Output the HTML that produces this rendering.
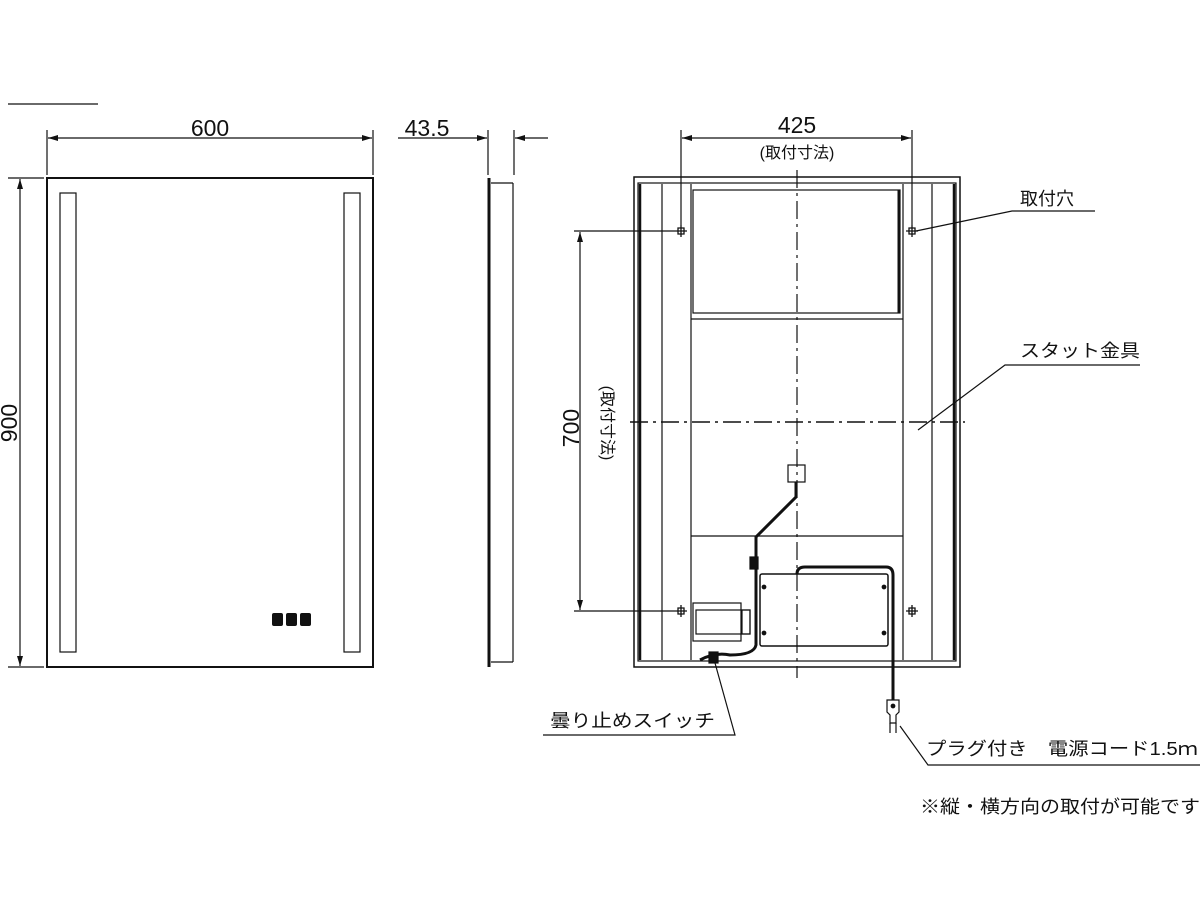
<!DOCTYPE html>
<html><head><meta charset="utf-8"><style>
html,body{margin:0;padding:0;background:#fff;}
svg{display:block;}
text{font-family:"Liberation Sans","Noto Sans CJK JP",sans-serif;fill:#111;}
</style></head><body>
<svg width="1200" height="900" viewBox="0 0 1200 900" xmlns="http://www.w3.org/2000/svg">
<defs>
<marker id="a" viewBox="0 0 10 6" refX="10" refY="3" markerWidth="10" markerHeight="6" orient="auto-start-reverse" markerUnits="userSpaceOnUse"><path d="M0,0 L10,3 L0,6 z" fill="#111"/></marker>
</defs>
<g stroke="#111" fill="none" stroke-width="1.2">
<line x1="8" y1="104" x2="98" y2="104"/>
<rect x="47" y="178" width="326" height="489" stroke-width="2"/>
<rect x="60" y="193" width="16" height="459"/>
<rect x="344" y="193" width="16" height="459"/>
<line x1="47" y1="130" x2="47" y2="175"/>
<line x1="373" y1="130" x2="373" y2="175"/>
<line x1="48" y1="138" x2="372" y2="138" marker-start="url(#a)" marker-end="url(#a)"/>
<line x1="8" y1="178" x2="44" y2="178"/>
<line x1="8" y1="667" x2="44" y2="667"/>
<line x1="20" y1="179" x2="20" y2="666" marker-start="url(#a)" marker-end="url(#a)"/>
<line x1="488" y1="130" x2="488" y2="175"/>
<line x1="514" y1="130" x2="514" y2="175"/>
<line x1="398" y1="138" x2="487" y2="138" marker-end="url(#a)"/>
<line x1="548" y1="138" x2="515" y2="138" marker-end="url(#a)"/>
<line x1="489" y1="178" x2="489" y2="667" stroke-width="3"/>
<line x1="513" y1="183" x2="513" y2="662"/>
<line x1="491" y1="183" x2="513" y2="183"/>
<line x1="491" y1="662" x2="513" y2="662"/>
<rect x="634" y="177" width="326" height="490" stroke-width="1.5"/>
<rect x="638" y="183" width="318" height="478"/>
<line x1="640" y1="184" x2="640" y2="660" stroke-width="2.5"/>
<line x1="954" y1="184" x2="954" y2="660" stroke-width="2.5"/>
<line x1="662" y1="184" x2="662" y2="660"/>
<line x1="932" y1="184" x2="932" y2="660"/>
<line x1="691" y1="184" x2="691" y2="660"/>
<line x1="903" y1="184" x2="903" y2="660"/>
<rect x="693" y="190" width="207" height="123"/>
<line x1="899" y1="190" x2="899" y2="313" stroke-width="3"/>
<line x1="691" y1="319" x2="903" y2="319"/>
<line x1="691" y1="536" x2="903" y2="536"/>
<line x1="797" y1="170" x2="797" y2="678" stroke-dasharray="18,5,3,5"/>
<line x1="630" y1="422" x2="965" y2="422" stroke-dasharray="18,5,3,5" stroke-width="1.5"/>
<g stroke-width="1.3">
<path d="M678,228h6v6h-6z M681,225v12 M675,231h12"/>
<path d="M909,228h6v6h-6z M912,225v12 M906,231h12"/>
<path d="M678,608h6v6h-6z M681,605v12 M675,611h12"/>
<path d="M909,608h6v6h-6z M912,605v12 M906,611h12"/>
</g>
<rect x="788" y="465" width="17" height="17"/>
<path d="M796,482 V497 L756,537 V645 Q754,655 730,655 Q715,652 700,660" stroke-width="3"/>
<rect x="750" y="557" width="8" height="12" fill="#111"/>
<rect x="693" y="603" width="48" height="38"/>
<rect x="696" y="610" width="54" height="24"/>
<rect x="742" y="610" width="8" height="24"/>
<rect x="760" y="574" width="128" height="72" rx="2" stroke-width="1.5"/>
<path d="M797,574 Q797,567 805,567 H886 Q893,567 893,575 V700" stroke-width="3"/>
<circle cx="764" cy="587" r="1.8" fill="#111"/>
<circle cx="884" cy="587" r="1.8" fill="#111"/>
<circle cx="764" cy="633" r="1.8" fill="#111"/>
<circle cx="884" cy="633" r="1.8" fill="#111"/>
<rect x="709" y="652" width="9" height="11" fill="#111"/>
<path d="M887,700 h12 v12 l-3,3 v8 h-6 v-8 l-3,-3 z"/>
<circle cx="893" cy="706" r="1.8" fill="#111"/>
<line x1="890" y1="723" x2="890" y2="733"/>
<line x1="896" y1="723" x2="896" y2="733"/>
<line x1="681" y1="130" x2="681" y2="225"/>
<line x1="912" y1="130" x2="912" y2="225"/>
<line x1="682" y1="138" x2="911" y2="138" marker-start="url(#a)" marker-end="url(#a)"/>
<line x1="574" y1="231" x2="675" y2="231"/>
<line x1="574" y1="611" x2="675" y2="611"/>
<line x1="580" y1="232" x2="580" y2="610" marker-start="url(#a)" marker-end="url(#a)"/>
<path d="M1095,211 H1012 L916,231"/>
<path d="M1140,365 H1005 L918,430"/>
<path d="M543,735 H735 L715,663"/>
<path d="M1200,765 H928 L900,726"/>
</g>
<g font-size="23">
<text x="210" y="136" text-anchor="middle">600</text>
<text x="427" y="136" text-anchor="middle">43.5</text>
<text x="797" y="133" text-anchor="middle">425</text>
<text transform="translate(17,423) rotate(-90)" text-anchor="middle">900</text>
<text transform="translate(579,428) rotate(-90)" text-anchor="middle">700</text>
</g>
<g font-size="16">
<text x="797" y="158" text-anchor="middle">(取付寸法)</text>
<text transform="translate(602,423) rotate(90)" text-anchor="middle">(取付寸法)</text>
</g>
<g font-size="18">
<text x="1020" y="205">取付穴</text>
<text x="1020" y="357" textLength="120" lengthAdjust="spacingAndGlyphs">スタット金具</text>
<text x="550" y="727" textLength="165" lengthAdjust="spacingAndGlyphs">曇り止めスイッチ</text>
<text x="926" y="755" textLength="272" lengthAdjust="spacingAndGlyphs">プラグ付き　電源コード1.5ｍ</text>
<text x="920" y="813" textLength="280" lengthAdjust="spacingAndGlyphs">※縦・横方向の取付が可能です</text>
</g>
<g fill="#111">
<rect x="272" y="613" width="11" height="13" rx="2"/>
<rect x="286" y="613" width="11" height="13" rx="2"/>
<rect x="300" y="613" width="11" height="13" rx="2"/>
</g>
</svg>
</body></html>
